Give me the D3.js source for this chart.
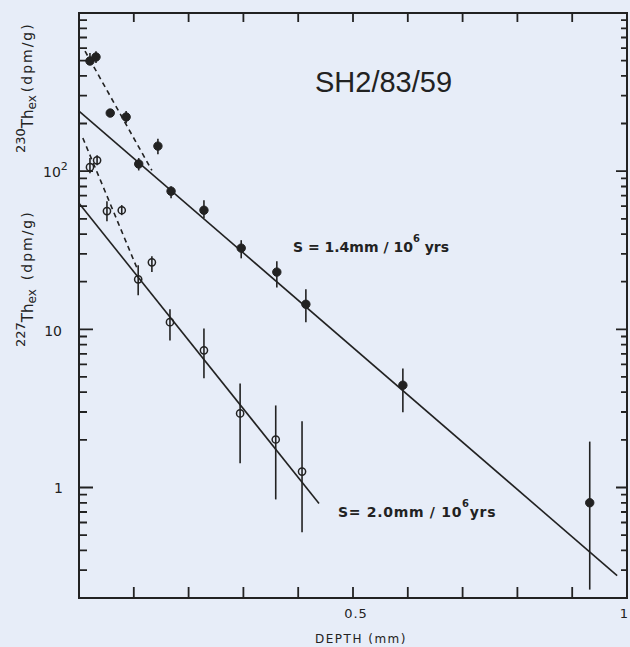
<!DOCTYPE html>
<html>
<head>
<meta charset="utf-8">
<script src="https://cdn.jsdelivr.net/npm/d3@7"></script>
<style>
body { margin: 0; background: #e7edf8; }
svg { display: block; }
</style>
</head>
<body>
<script>
// 230Th excess, filled circles
var depth230 = [0.020, 0.031, 0.057, 0.086, 0.109, 0.144, 0.168, 0.228, 0.296, 0.361, 0.414, 0.591, 0.932];
var th230    = [497, 527, 233, 220, 111, 144, 74.7, 56.6, 32.6, 23.0, 14.4, 4.43, 0.80];
var th230Lo  = [469, 483, 220, 201, 101, 128, 67.4, 50.5, 28.1, 18.4, 11.1, 2.99, 0.226];
var th230Hi  = [558, 574, 247, 240, 121, 160, 80.4, 65.5, 36.6, 26.9, 17.9, 5.66, 1.95];

// 227Th excess, open circles
var depth227 = [0.020, 0.033, 0.051, 0.078, 0.108, 0.133, 0.166, 0.228, 0.294, 0.359, 0.407];
var th227    = [106, 117, 55.9, 56.6, 20.7, 26.5, 11.1, 7.36, 2.94, 2.01, 1.26];
var th227Lo  = [97, 109, 48.3, 52.7, 16.4, 23.0, 8.51, 4.90, 1.42, 0.84, 0.52];
var th227Hi  = [121, 126, 64.6, 61.0, 25.4, 29.0, 13.4, 10.1, 4.55, 3.30, 2.62];

// fitted lines (solid) and surface trends (dashed)
var fit230Depth = [0, 0.982];
var fit230Value = [240, 0.277];
var fit227Depth = [0, 0.438];
var fit227Value = [62.7, 0.792];
var dash230Depth = [0.011, 0.133];
var dash230Value = [574, 101];
var dash227Depth = [0.007, 0.106];
var dash227Value = [162, 24.3];

var xLabels = ["0.5", "1"];

var ink = "#222";
var svg = d3.select("body").append("svg").attr("width", 630).attr("height", 647);

var x = d3.scaleLinear().domain([0, 1]).range([79, 627]);
var y = d3.scaleLog().domain([0.2, 1000]).range([598, 13]);

// frame
svg.append("path")
	.attr("d", "M" + x(0) + "," + y(1000) + "H" + x(1) + "V" + y(0.2) + "H" + x(0) + "Z")
	.attr("fill", "none").attr("stroke", ink).attr("stroke-width", 2);

// inward ticks, positions from the scales' own tick generators
function drawTicks() {
	var xs = d3.scaleLinear().domain(x.domain()).range(x.range());
	var ys = d3.scaleLog().domain(y.domain()).range(y.range());
	var xt = xs.ticks(10).filter(function(v) { return v > 0.05 && v < 0.95; });
	var yt = ys.ticks().filter(function(v) { return v > 0.25 && v < 999; });
	var left = xs(0), right = xs(1), top = ys(1000), bottom = ys(0.2);
	var d = "";
	yt.forEach(function(v) {
		var py = Number(ys(v));
		if (!isFinite(py)) return;
		var major = Math.abs(Math.log10(v) - Math.round(Math.log10(v))) < 1e-6;
		d += "M" + left.toFixed(1) + "," + py.toFixed(1) + "h" + (major ? 14 : 8);
		d += "M" + right.toFixed(1) + "," + py.toFixed(1) + "h" + (major ? -11 : -6);
	});
	xt.forEach(function(v) {
		var px = Number(xs(v));
		if (!isFinite(px)) return;
		d += "M" + px.toFixed(1) + "," + top.toFixed(1) + "v9";
		d += "M" + px.toFixed(1) + "," + bottom.toFixed(1) + "v-11";
	});
	svg.append("path").attr("d", d).attr("fill", "none")
		.attr("stroke", ink).attr("stroke-width", 1.8);
}
drawTicks();

// fit lines
var lineGen = d3.line().x(function(d) { return x(d[0]); }).y(function(d) { return y(d[1]); });
function drawLine(ds, vs, dashed) {
	svg.append("path").attr("d", lineGen(d3.zip(ds, vs)))
		.attr("fill", "none").attr("stroke", ink).attr("stroke-width", 1.6)
		.attr("stroke-dasharray", dashed ? "5,4" : null);
}
drawLine(fit230Depth, fit230Value, false);
drawLine(fit227Depth, fit227Value, false);
drawLine(dash230Depth, dash230Value, true);
drawLine(dash227Depth, dash227Value, true);

// error bars + points
function drawPoints(ds, vs, lo, hi, filled) {
	var g = svg.append("g");
	ds.forEach(function(d, i) {
		g.append("line").attr("x1", x(d)).attr("x2", x(d))
			.attr("y1", y(lo[i])).attr("y2", y(hi[i]))
			.attr("stroke", ink).attr("stroke-width", 1.6);
		g.append("circle").attr("cx", x(d)).attr("cy", y(vs[i]))
			.attr("r", filled ? 4.2 : 3.6)
			.attr("fill", filled ? ink : "none")
			.attr("stroke", ink).attr("stroke-width", filled ? 1 : 1.5);
	});
}
drawPoints(depth230, th230, th230Lo, th230Hi, true);
drawPoints(depth227, th227, th227Lo, th227Hi, false);

var font = "'DejaVu Sans', sans-serif";

// y tick labels
var t100 = svg.append("text").attr("x", 43).attr("y", y(100) + 6)
	.attr("font-family", font).attr("font-size", 14).attr("fill", ink);
t100.append("tspan").text("10");
t100.append("tspan").attr("dy", -7).attr("font-size", 11).text("2");
svg.append("text").attr("x", 62).attr("y", y(10) + 7).attr("text-anchor", "end")
	.attr("font-family", font).attr("font-size", 14).attr("fill", ink).text("10");
svg.append("text").attr("x", 63).attr("y", y(1) + 6).attr("text-anchor", "end")
	.attr("font-family", font).attr("font-size", 14).attr("fill", ink).text("1");

// x tick labels
svg.selectAll(".xl").data(xLabels).enter().append("text")
	.attr("x", function(d) { return d == "1" ? 629 : x(+d) + 3; }).attr("y", 618)
	.attr("text-anchor", function(d) { return d == "1" ? "end" : "middle"; })
	.attr("font-family", font).attr("font-size", 13)
	.attr("letter-spacing", 1).attr("fill", ink).text(function(d) { return d; });

svg.append("text").attr("x", 361).attr("y", 643).attr("text-anchor", "middle")
	.attr("font-family", font).attr("font-size", 12).attr("letter-spacing", 1.5)
	.attr("fill", ink).text("DEPTH (mm)");

// rotated y titles
function yTitle(iso, by, gap) {
	var t = svg.append("text").attr("transform", "translate(33," + by + ") rotate(-90)")
		.attr("font-family", font).attr("fill", ink);
	t.append("tspan").attr("font-size", 13).attr("dy", -8).text(iso);
	t.append("tspan").attr("font-size", 15).attr("dy", 8).text("Th");
	t.append("tspan").attr("font-size", 12).attr("dy", 3).text("ex");
	t.append("tspan").attr("font-size", 14).attr("dy", -4).attr("dx", gap)
		.attr("letter-spacing", 2).text("(dpm/g)");
}
yTitle("230", 153, 3);
yTitle("227", 347, 9);

// sample name
svg.append("text").attr("x", 315).attr("y", 92)
	.attr("font-family", "'Liberation Sans', Arial, sans-serif").attr("font-size", 29)
	.attr("fill", ink).text("SH2/83/59");

// rate annotations
function rateLabel(tx, ty, pre, post, sp) {
	var t = svg.append("text").attr("x", tx).attr("y", ty)
		.attr("font-family", font).attr("font-size", 14).attr("font-weight", "bold")
		.attr("letter-spacing", sp).attr("fill", ink);
	t.append("tspan").text(pre);
	t.append("tspan").attr("dy", -10).attr("font-size", 10).text("6");
	t.append("tspan").attr("dy", 10).text(post);
}
rateLabel(293, 252, "S = 1.4mm / 10", " yrs", 0);
rateLabel(338, 517, "S= 2.0mm / 10", "yrs", 0.7);
</script>
</body>
</html>
